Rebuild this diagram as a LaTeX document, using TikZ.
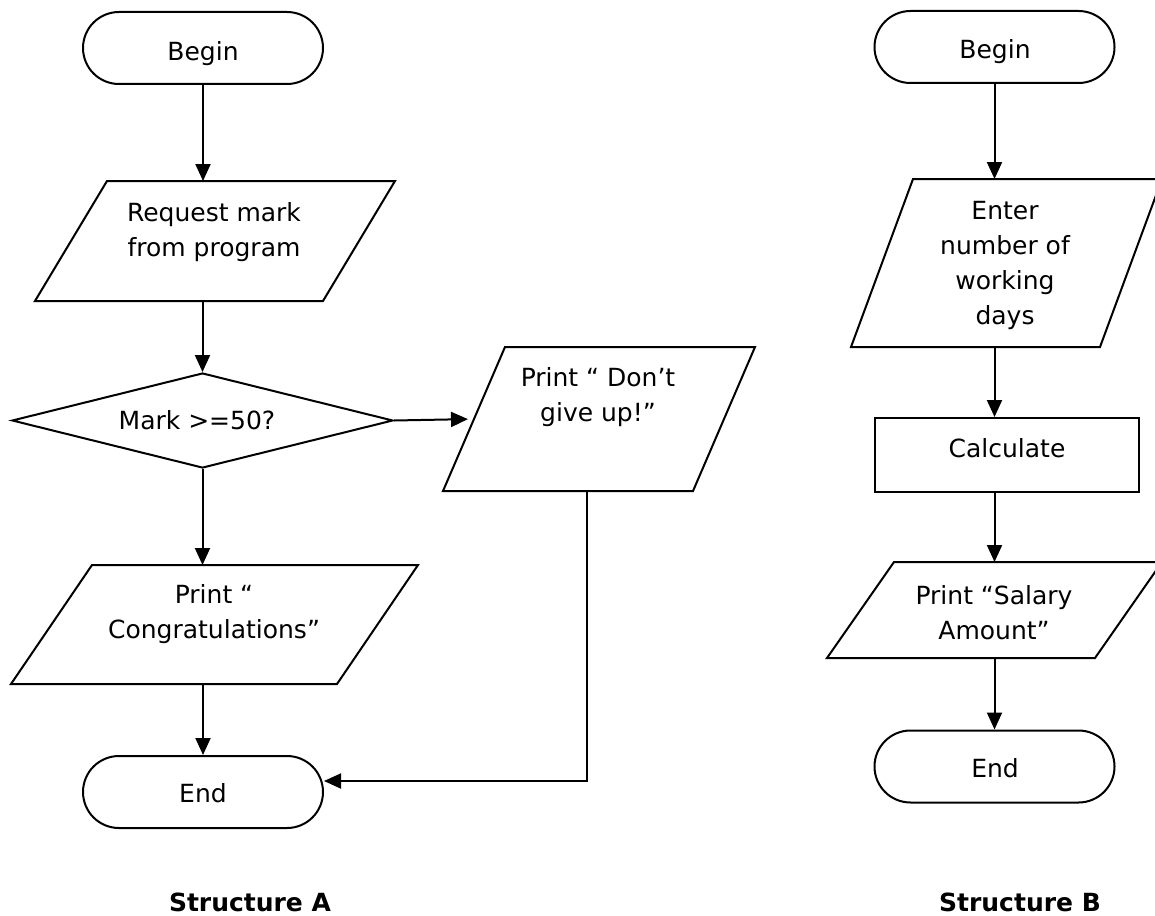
\documentclass[tikz,border=0pt]{standalone}
\usepackage{fontspec}
\setmainfont{DejaVu Sans}
\usetikzlibrary{shapes.geometric,arrows.meta}
\newcommand\drawpara[2]{%
  \draw[lw] ([xshift={-#2/2}]#1.south west) -- ([xshift={#2/2}]#1.north west) -- ([xshift={#2/2}]#1.north east) -- ([xshift={-#2/2}]#1.south east) -- cycle;}
\begin{document}
\begin{tikzpicture}[x=1pt,y=-1pt,
  lw/.style={line width=2pt},
  term/.style={draw, lw, rounded corners=36pt, minimum width=240pt, minimum height=72pt, inner sep=0pt},
  pbox/.style={inner sep=0pt, outer sep=0pt},
  txt/.style={align=center, inner sep=0pt, font=\fontsize{25}{35}\selectfont},
  boldtxt/.style={inner sep=0pt, font=\bfseries\fontsize{25}{35}\selectfont},
  arr/.style={lw, -{Triangle[length=17pt,width=15pt]}}]
\useasboundingbox (0,0) rectangle (1155,915);
\fill[white] (0,0) rectangle (1155,915);
% Structure A
\node[term] (beginA) at (203,48) {};
\node[txt] (tbeginA) at (203,54) {Begin};
\node[pbox, minimum width=288pt, minimum height=120pt] (req) at (215,241) {};
\drawpara{req}{72}
\node[txt] (treq) at (214,232) {Request mark\\from program};
\node[draw, lw, diamond, minimum width=381pt, minimum height=95pt, inner sep=0pt, aspect=4] (dec) at (202.5,420.5) {};
\node[txt] (tdec) at (197,420) {Mark >=50?};
\node[pbox, minimum width=250pt, minimum height=144pt] (dont) at (599,419) {};
\drawpara{dont}{62}
\node[txt] (tdont) at (598,397) {Print “ Don’t\\give up!”};
\node[pbox, minimum width=326pt, minimum height=119pt] (cong) at (214.5,624.5) {};
\drawpara{cong}{81}
\node[txt] (tcong) at (214,614) {Print “\\Congratulations”};
\node[term] (endA) at (203,792) {};
\node[txt] (tendA) at (203,793.5) {End};
\node[boldtxt] (capA) at (250,902) {Structure A};
\draw[arr] (beginA.south) -- (beginA.south |- req.north);
\draw[arr] (dec.north |- req.south) -- (dec.north);
\draw[arr, shorten >=6pt] (dec.east) -- (dont.west);
\draw[arr] (dec.south) -- (dec.south |- cong.north);
\draw[arr] (endA.north |- cong.south) -- (endA.north);
\draw[arr] ([xshift=-12pt]dont.south) |- ([yshift=11pt]endA.east);
% Structure B
\node[term] (beginB) at (994.5,47) {};
\node[txt] (tbeginB) at (995,52) {Begin};
\node[pbox, minimum width=249pt, minimum height=168pt] (enter) at (1006.5,263) {};
\drawpara{enter}{62}
\node[txt] (tenter) at (1005,265) {Enter\\number of\\working\\days};
\node[draw, lw, minimum width=264pt, minimum height=74pt, inner sep=0pt] (calc) at (1007,455) {};
\node[txt] (tcalc) at (1007,448) {Calculate};
\node[pbox, minimum width=268pt, minimum height=96pt] (sal) at (994.5,610) {};
\drawpara{sal}{67}
\node[txt] (tsal) at (994,612.5) {Print “Salary\\Amount”};
\node[term] (endB) at (994.5,766.5) {};
\node[txt] (tendB) at (995,768.5) {End};
\node[boldtxt] (capB) at (1020,902) {Structure B};
\draw[arr] (beginB.south) -- (beginB.south |- enter.north);
\draw[arr] (beginB.south |- enter.south) -- (beginB.south |- calc.north);
\draw[arr] (beginB.south |- calc.south) -- (beginB.south |- sal.north);
\draw[arr] (beginB.south |- sal.south) -- (endB.north);
\end{tikzpicture}
\end{document}
